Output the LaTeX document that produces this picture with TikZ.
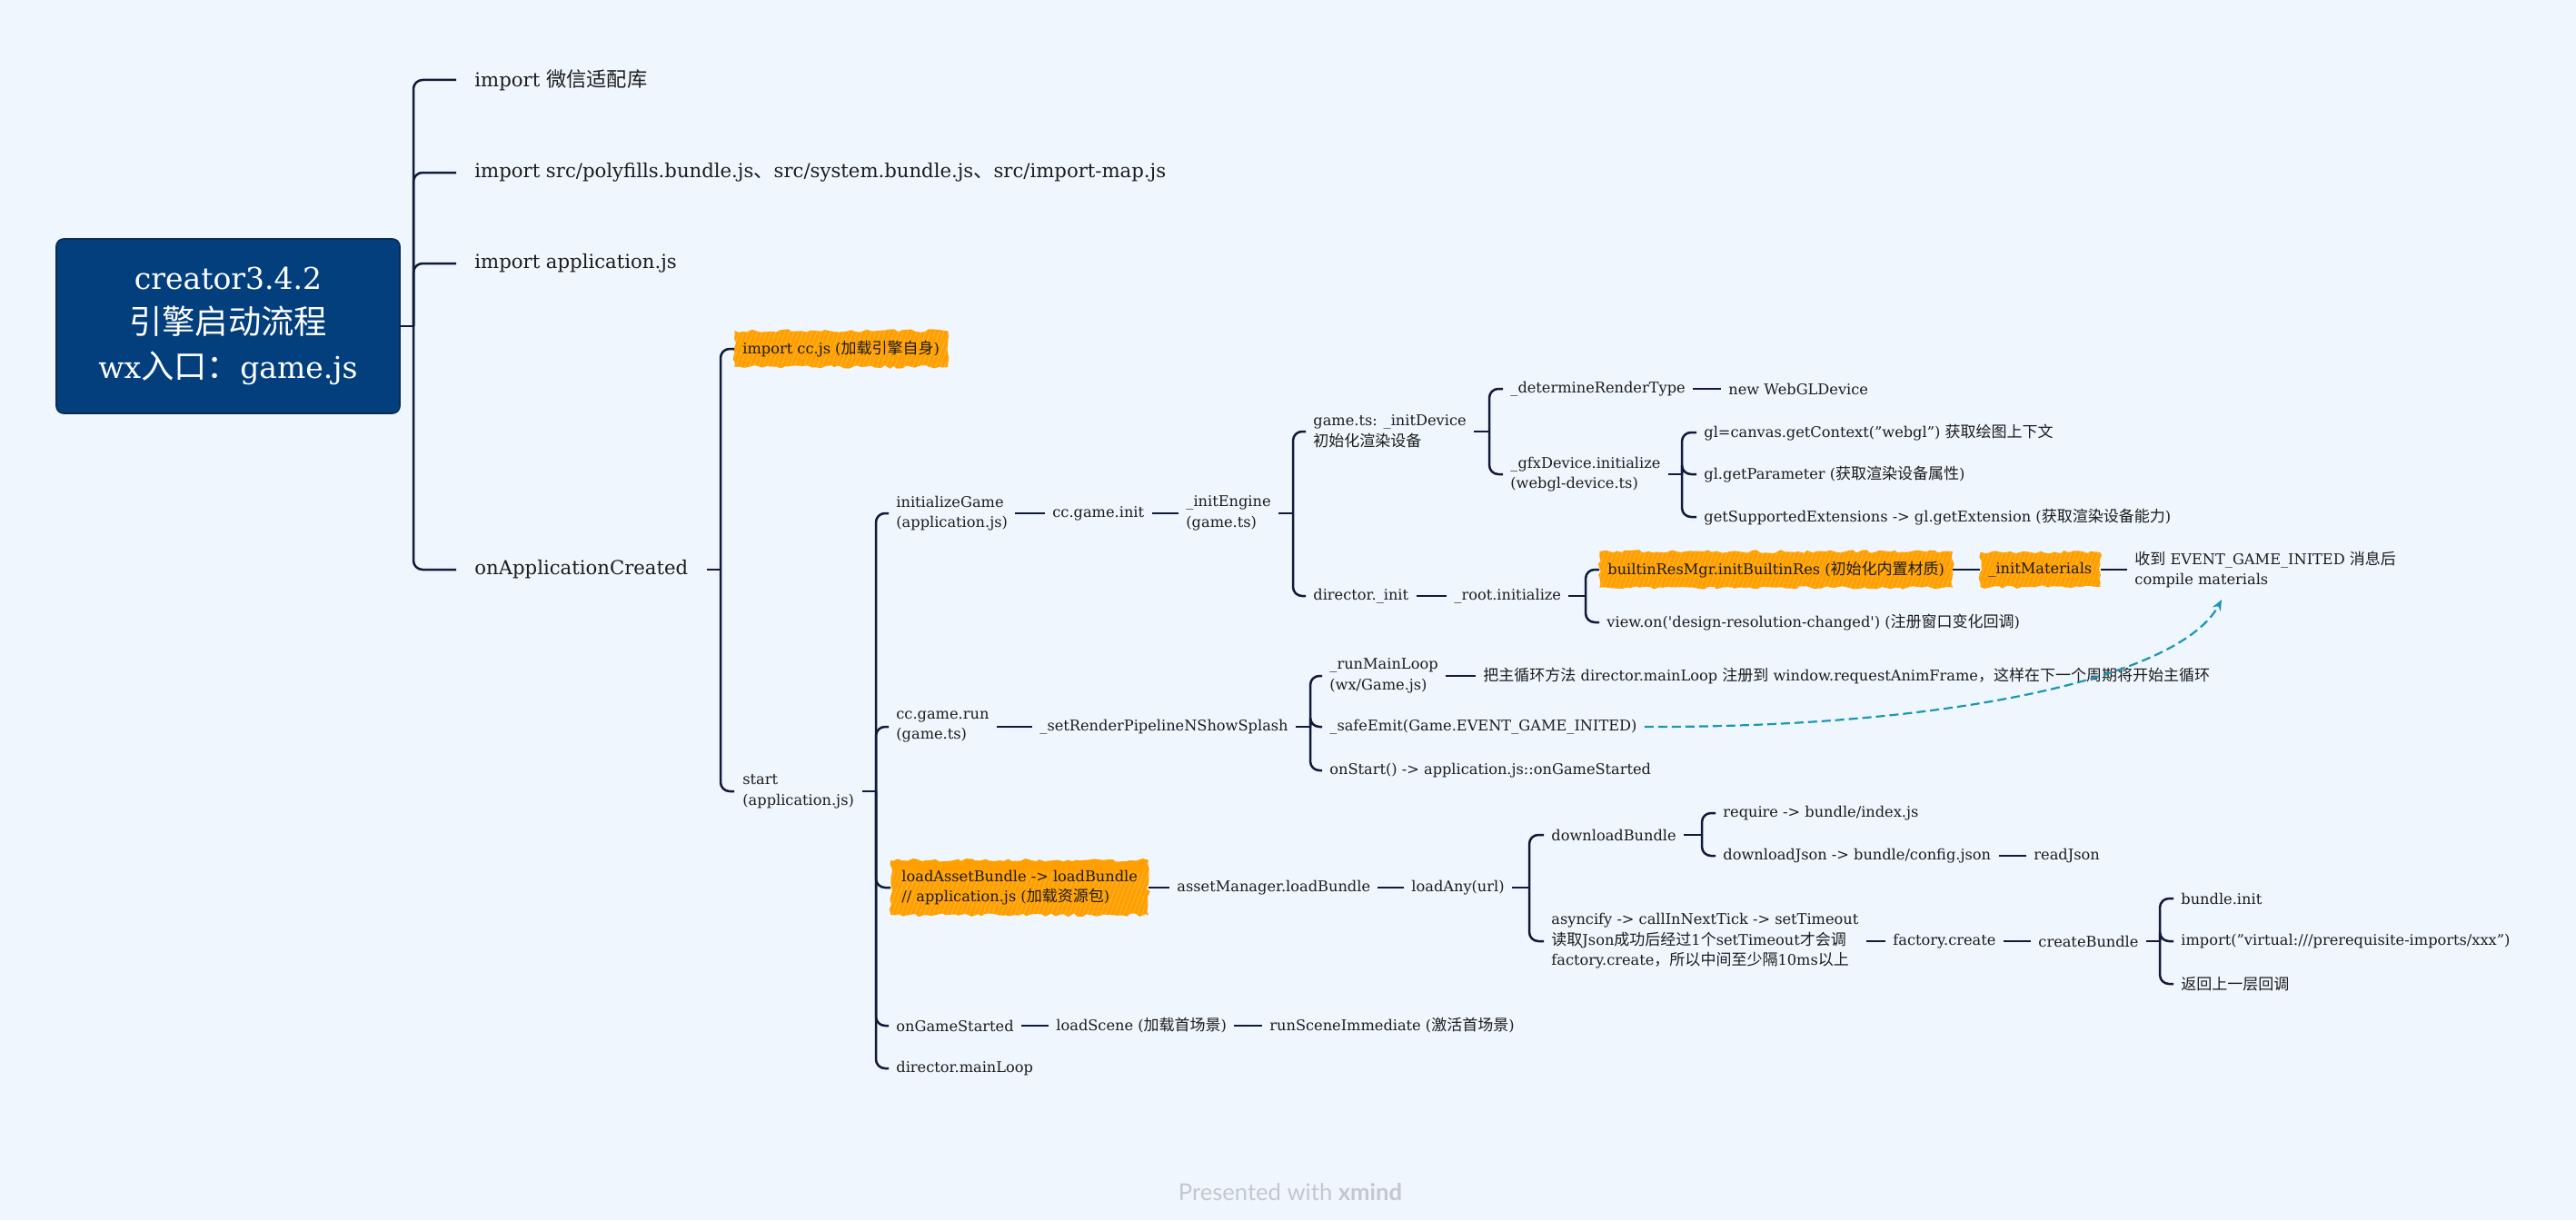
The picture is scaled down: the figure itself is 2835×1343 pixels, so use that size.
\documentclass[tikz,border=0pt]{standalone}
\usepackage{fontspec}
\setmainfont{DejaVu Serif}
\newfontfamily\rawserif{DejaVu Serif}
\newfontfamily\cjk{Noto Sans CJK SC}[Scale=1.05]
\newfontfamily\uisans{Lato}
\usetikzlibrary{decorations.pathmorphing,arrows.meta}
\newcommand\zh[1]{{\cjk #1}}
\newcommand\sq{{\rawserif'}}
\definecolor{bg}{HTML}{EFF6FE}
\definecolor{rootblue}{HTML}{033F7D}
\definecolor{rootedge}{HTML}{0C2B52}
\definecolor{ink}{HTML}{1C1C1C}
\definecolor{linecol}{HTML}{0F1B38}
\definecolor{hlorange}{HTML}{FFA000}
\definecolor{arrowteal}{HTML}{1B97B3}
\definecolor{footgray}{HTML}{C3C8CF}
\begin{document}
\begin{tikzpicture}[x=0.5pt,y=-0.5pt,
  rootbox/.style={fill=rootblue,draw=rootedge,line width=0.8pt,rounded corners=4pt,
    text=white,align=center,minimum width=189pt,minimum height=96pt,
    font=\fontsize{16.5}{24.5}\selectfont},
  lnode/.style={anchor=west,align=left,inner xsep=4pt,inner ysep=2pt,text=ink,
    font=\fontsize{8.1}{11.3}\selectfont},
  lone/.style={anchor=west,align=left,inner xsep=10pt,inner ysep=2pt,text=ink,
    font=\fontsize{10.6}{13.5}\selectfont},
  hl/.style={inner xsep=4.5pt,inner ysep=5.5pt,
    preaction={fill=hlorange,decorate,decoration={random steps,segment length=2.5pt,amplitude=0.9pt}},
    path picture={\foreach \k in {0,2.5,...,210}{
      \draw[white,opacity=0.3,line width=0.25pt]
        ([xshift=\k pt-12pt]path picture bounding box.south west) -- ++(9pt,24pt);}}},
  link/.style={draw=linecol,line width=1.25pt,rounded corners=5pt},
  dasharrow/.style={draw=arrowteal,line width=1.1pt,dash pattern=on 5pt off 2.5pt,
    -{Stealth[length=6pt,width=5pt]}}
]
\pgfmathsetseed{7}
\useasboundingbox (0,0) rectangle (2835,1343);
\fill[bg] (0,0) rectangle (2835,1343);

% root
\node[rootbox] (root) at (251,359) {creator3.4.2\\{\cjk\fontsize{17.3}{24.5}\selectfont 引擎启动流程}\\wx{\cjk\fontsize{17.3}{24.5}\selectfont 入口：}game.js};

% level 1
\node[lone] (l1a) at (502,88) {import \zh{微信适配库}};
\node[lone] (l1b) at (502,190) {import src/polyfills.bundle.js\zh{、}src/system.bundle.js\zh{、}src/import-map.js};
\node[lone] (l1c) at (502,290) {import application.js};
\node[lone] (l1d) at (502,627) {onApplicationCreated};
\coordinate (t0) at (455,359);
\draw[link] (root.east) -- (t0);
\foreach \n in {l1a,l1b,l1c,l1d} \draw[link] (t0) |- (\n.west);

% level 2
\coordinate (t1) at (793,627);
\node[lnode,hl] (ccjs) at (808,384) {import cc.js (\zh{加载引擎自身})};
\node[lnode,inner xsep=4.5pt] (start) at (808,871) {start\\(application.js)};
\draw[link] (l1d.east) -- (t1);
\draw[link] (t1) |- (ccjs.west);
\draw[link] (t1) |- (start.west);

% level 3
\coordinate (t2) at (964,871);
\node[lnode] (initg) at (978,565) {initializeGame\\(application.js)};
\node[lnode] (ccrun) at (978,800) {cc.game.run\\(game.ts)};
\node[lnode,hl,inner xsep=6pt] (lab) at (980,977) {loadAssetBundle -> loadBundle\\// application.js (\zh{加载资源包})};
\node[lnode] (ogs) at (978,1129) {onGameStarted};
\node[lnode] (dml) at (978,1176) {director.mainLoop};
\draw[link] (start.east) -- (t2);
\foreach \n in {initg,ccrun,lab,ogs,dml} \draw[link] (t2) |- (\n.west);

% initializeGame chain
\node[lnode] (ccinit) at (1150,565) {cc.game.init};
\node[lnode] (ieng) at (1297,565) {\_initEngine\\(game.ts)};
\draw[link] (initg.east) -- (ccinit.west);
\draw[link] (ccinit.east) -- (ieng.west);
\coordinate (t3) at (1423,565);
\draw[link] (ieng.east) -- (t3);
\node[lnode] (idev) at (1437,475) {game.ts: \_initDevice\\\zh{初始化渲染设备}};
\node[lnode] (dinit) at (1437,656) {director.\_init};
\draw[link] (t3) |- (idev.west);
\draw[link] (t3) |- (dinit.west);

\coordinate (t4) at (1639,475);
\draw[link] (idev.east) -- (t4);
\node[lnode] (drt) at (1654,428) {\_determineRenderType};
\node[lnode] (gfx) at (1654,522) {\_gfxDevice.initialize\\(webgl-device.ts)};
\draw[link] (t4) |- (drt.west);
\draw[link] (t4) |- (gfx.west);
\node[lnode] (nwd) at (1894,428) {new WebGLDevice};
\draw[link] (drt.east) -- (nwd.west);
\coordinate (t5) at (1851,522);
\draw[link] (gfx.east) -- (t5);
\node[lnode] (gl1) at (1867,476) {gl=canvas.getContext("webgl") \zh{获取绘图上下文}};
\node[lnode] (gl2) at (1867,522) {gl.getParameter (\zh{获取渲染设备属性})};
\node[lnode] (gl3) at (1867,569) {getSupportedExtensions -> gl.getExtension (\zh{获取渲染设备能力})};
\foreach \n in {gl1,gl2,gl3} \draw[link] (t5) |- (\n.west);

\node[lnode] (rinit) at (1592,656) {\_root.initialize};
\draw[link] (dinit.east) -- (rinit.west);
\coordinate (t6) at (1745,656);
\draw[link] (rinit.east) -- (t6);
\node[lnode,hl] (bres) at (1760,627) {builtinResMgr.initBuiltinRes (\zh{初始化内置材质})};
\node[lnode,hl] (imat) at (2179,627) {\_initMaterials};
\node[lnode] (note1) at (2341,627) {\zh{收到} EVENT\_GAME\_INITED \zh{消息后}\\compile materials};
\node[lnode] (vieo) at (1760,685) {view.on(\sq design-resolution-changed\sq) (\zh{注册窗口变化回调})};
\draw[link] (t6) |- (bres.west);
\draw[link] (t6) |- (vieo.west);
\draw[link] (bres.east) -- (imat.west);
\draw[link] (imat.east) -- (note1.west);

% cc.game.run chain
\node[lnode] (srp) at (1136,800) {\_setRenderPipelineNShowSplash};
\draw[link] (ccrun.east) -- (srp.west);
\coordinate (t7) at (1442,800);
\draw[link] (srp.east) -- (t7);
\node[lnode] (rml) at (1455,744) {\_runMainLoop\\(wx/Game.js)};
\node[lnode] (rmlnote) at (1624,744) {\zh{把主循环方法} director.mainLoop \zh{注册到} window.requestAnimFrame\zh{，这样在下一个周期将开始主循环}};
\node[lnode] (semit) at (1455,800) {\_safeEmit(Game.EVENT\_GAME\_INITED)};
\node[lnode] (ostart) at (1455,848) {onStart() -> application.js::onGameStarted};
\foreach \n in {rml,semit,ostart} \draw[link] (t7) |- (\n.west);
\draw[link] (rml.east) -- (rmlnote.west);

% loadAssetBundle chain
\node[lnode] (amlb) at (1287,977) {assetManager.loadBundle};
\node[lnode] (lany) at (1545,977) {loadAny(url)};
\draw[link] (lab.east) -- (amlb.west);
\draw[link] (amlb.east) -- (lany.west);
\coordinate (t8) at (1683,977);
\draw[link] (lany.east) -- (t8);
\node[lnode] (dlb) at (1699,919) {downloadBundle};
\node[lnode] (asy) at (1699,1036) {asyncify -> callInNextTick -> setTimeout\\\zh{读取}Json\zh{成功后经过}1\zh{个}setTimeout\zh{才会调}\\factory.create\zh{，所以中间至少隔}10ms\zh{以上}};
\draw[link] (t8) |- (dlb.west);
\draw[link] (t8) |- (asy.west);
\coordinate (t9) at (1873,919);
\draw[link] (dlb.east) -- (t9);
\node[lnode] (req) at (1888,895) {require -> bundle/index.js};
\node[lnode] (dlj) at (1888,942) {downloadJson -> bundle/config.json};
\node[lnode] (rj) at (2230,942) {readJson};
\draw[link] (t9) |- (req.west);
\draw[link] (t9) |- (dlj.west);
\draw[link] (dlj.east) -- (rj.west);
\node[lnode] (fc) at (2075,1036) {factory.create};
\node[lnode] (cb) at (2235,1036) {createBundle};
\draw[link] (asy.east) -- (fc.west);
\draw[link] (fc.east) -- (cb.west);
\coordinate (t10) at (2377,1036);
\draw[link] (cb.east) -- (t10);
\node[lnode] (bi) at (2392,989) {bundle.init};
\node[lnode] (imp) at (2392,1036) {import("virtual:///prerequisite-imports/xxx")};
\node[lnode] (ret) at (2392,1083) {\zh{返回上一层回调}};
\foreach \n in {bi,imp,ret} \draw[link] (t10) |- (\n.west);

% onGameStarted chain
\node[lnode] (lsc) at (1154,1129) {loadScene (\zh{加载首场景})};
\node[lnode] (rsi) at (1389,1129) {runSceneImmediate (\zh{激活首场景})};
\draw[link] (ogs.east) -- (lsc.west);
\draw[link] (lsc.east) -- (rsi.west);

% dashed relationship
\coordinate (atip) at (2445,660);
\draw[dasharrow] (semit.east) .. controls (2150,801) and (2400,745) .. (atip);

% footer
\node[text=footgray,font=\uisans\fontsize{12.8}{15}\selectfont] (foot) at (1420,1312) {Presented with \textbf{xmind}};
\end{tikzpicture}
\end{document}
